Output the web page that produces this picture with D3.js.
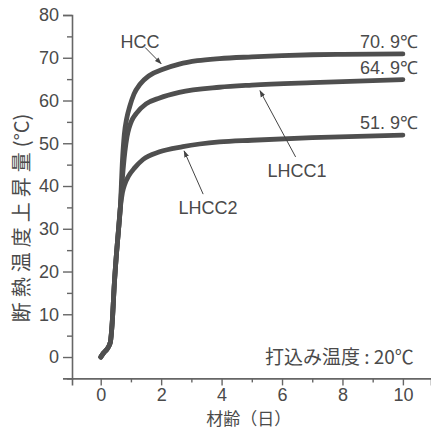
<!DOCTYPE html>
<html>
<head>
<meta charset="utf-8">
<script src="https://cdn.jsdelivr.net/npm/d3@7"></script>
<style>
  body { margin: 0; background: #fff; }
  svg { display: block; }
</style>
</head>
<body>
<div id="chart"></div>
<script>
const width = 431;
const height = 431;

// shared early rise (all three mixes overlap here)
const trunkAge = [0, 0.1, 0.25, 0.32, 0.38, 0.45, 0.52, 0.58, 0.65];
const trunkTemp = [0, 1.0, 2.3, 3.5, 8, 17, 24, 29, 35];

const hccAge = [0.72, 0.78, 0.86, 0.96, 1.1, 1.3, 1.6, 2.06, 2.6, 3.2, 3.93, 5, 6, 7, 8, 10];
const hccTemp = [46, 52, 55.8, 58.6, 61.5, 63.8, 65.8, 67.3, 68.5, 69.3, 69.8, 70.2, 70.5, 70.7, 70.8, 70.9];

const lhcc1Age = [0.72, 0.8, 0.87, 0.94, 1.02, 1.18, 1.5, 1.95, 2.6, 3.93, 5, 7, 10];
const lhcc1Temp = [42, 48, 51.5, 53.6, 55.2, 57, 59.2, 60.6, 61.9, 63.1, 63.6, 64.2, 64.9];

const lhcc2Age = [0.72, 0.8, 0.92, 1.13, 1.4, 1.95, 2.72, 3.93, 5, 7, 10];
const lhcc2Temp = [38.5, 40.5, 42.3, 44.3, 46.2, 48.0, 49.2, 50.3, 50.7, 51.3, 51.9];

const finalLabels = ["70. 9℃", "64. 9℃", "51. 9℃"];
const finalTemps = [70.9, 64.9, 51.9];

const yTicks = [0, 10, 20, 30, 40, 50, 60, 70, 80];
const yMinor = [-5, 5, 15, 25, 35, 45, 55, 65, 75];
const xTicks = [0, 2, 4, 6, 8, 10];
const xMinor = [1, 3, 5, 7, 9];

// callout labels and arrows, in data units
const calloutText = ["HCC", "LHCC1", "LHCC2"];
const calloutPos = [[1.3, 73.7], [6.5, 43.6], [3.55, 35.0]];
const arrowFrom = [[1.47, 72.4], [6.45, 46.8], [3.39, 38.1]];
const arrowTo = [[2.0, 68.6], [5.27, 62.3], [2.76, 48.2]];

const xScale = d3.scaleLinear().domain([-0.95, 10.93]).range([72, 431]);
const yScale = d3.scaleLinear().domain([-5, 80]).range([378.4, 15]);

const svg = d3.select('#chart').append('svg')
    .attr('width', width)
    .attr('height', height);

const axisColor = '#666';
const textColor = '#4a4a4a';
const numFont = '"Liberation Sans", Arial, sans-serif';
const cjkFont = '"Noto Sans CJK JP", "Noto Sans", sans-serif';

svg.append('defs').append('marker')
    .attr('id', 'arrow')
    .attr('viewBox', '0 0 10 10')
    .attr('refX', 9).attr('refY', 5)
    .attr('markerWidth', 7).attr('markerHeight', 7)
    .attr('orient', 'auto')
    .append('path')
    .attr('d', 'M0,1.5 L10,5 L0,8.5 Z')
    .attr('fill', '#444');

// y axis
svg.append('g')
    .attr('transform', `translate(${xScale(-0.95)},0)`)
    .call(d3.axisLeft(yScale).tickValues(yTicks).tickSize(9).tickPadding(4).tickFormat(d3.format('d')));
svg.append('g')
    .attr('transform', `translate(${xScale(-0.95)},0)`)
    .call(d3.axisLeft(yScale).tickValues(yMinor).tickSize(5).tickFormat(''))
    .call(g => g.select('.domain').remove());

// x axis
svg.append('g')
    .attr('transform', `translate(0,${yScale(-5)})`)
    .call(d3.axisBottom(xScale).tickValues(xTicks).tickSize(7).tickPadding(3).tickFormat(d3.format('d')));
svg.append('g')
    .attr('transform', `translate(0,${yScale(-5)})`)
    .call(d3.axisBottom(xScale).tickValues(xMinor).tickSize(4).tickFormat(''))
    .call(g => g.select('.domain').remove());

svg.selectAll('.domain').attr('stroke', axisColor).attr('stroke-width', 1.6);
svg.selectAll('.tick line').attr('stroke', axisColor).attr('stroke-width', 1.4);
svg.selectAll('.tick text')
    .attr('fill', textColor)
    .style('font-family', numFont)
    .style('font-size', '18px');

// axis titles
const yTitle = svg.append('text')
    .attr('transform', `translate(29,${218}) rotate(-90)`)
    .attr('text-anchor', 'middle')
    .attr('fill', textColor)
    .style('font-family', cjkFont)
    .style('font-size', '20px');
yTitle.append('tspan').style('letter-spacing', '5px').text('断熱温度上昇量');
yTitle.append('tspan').text('(°C)');

svg.append('text')
    .attr('x', xScale(4.9))
    .attr('y', 425)
    .attr('text-anchor', 'middle')
    .attr('fill', textColor)
    .style('font-family', cjkFont)
    .style('font-size', '17px')
    .text('材齢（日）');

svg.append('text')
    .attr('x', xScale(10.36))
    .attr('y', yScale(-1.6))
    .attr('text-anchor', 'end')
    .attr('fill', textColor)
    .style('font-family', cjkFont)
    .style('font-size', '19px')
    .text('打込み温度 : 20℃');

// curves
const toPoints = (ages, temps) => ages.map((a, i) => ({ age: a, temp: temps[i] }));
const trunk = toPoints(trunkAge, trunkTemp);
const curves = [
    trunk.concat(toPoints(hccAge, hccTemp)),
    trunk.concat(toPoints(lhcc1Age, lhcc1Temp)),
    trunk.concat(toPoints(lhcc2Age, lhcc2Temp))
];

const line = d3.line()
    .x(d => xScale(d.age))
    .y(d => yScale(d.temp))
    .curve(d3.curveMonotoneX);

svg.append('g').selectAll('path')
    .data(curves).enter()
    .append('path')
    .attr('d', d => line(d))
    .attr('fill', 'none')
    .attr('stroke', '#4f4f4f')
    .attr('stroke-width', 4.8)
    .attr('stroke-linecap', 'round')
    .attr('stroke-linejoin', 'round');

// final value labels
svg.append('g').selectAll('text')
    .data(finalLabels).enter()
    .append('text')
    .attr('x', xScale(10.5))
    .attr('y', (d, i) => yScale(finalTemps[i]) - 6)
    .attr('text-anchor', 'end')
    .attr('fill', textColor)
    .style('font-family', numFont)
    .style('font-size', '18px')
    .text(d => d);

// callouts
svg.append('g').selectAll('line')
    .data(arrowFrom).enter()
    .append('line')
    .attr('x1', d => xScale(d[0]))
    .attr('y1', d => yScale(d[1]))
    .attr('x2', (d, i) => xScale(arrowTo[i][0]))
    .attr('y2', (d, i) => yScale(arrowTo[i][1]))
    .attr('stroke', '#444')
    .attr('stroke-width', 1)
    .attr('marker-end', 'url(#arrow)');

svg.append('g').selectAll('text')
    .data(calloutText).enter()
    .append('text')
    .attr('x', (d, i) => xScale(calloutPos[i][0]))
    .attr('y', (d, i) => yScale(calloutPos[i][1]))
    .attr('dy', '0.35em')
    .attr('text-anchor', 'middle')
    .attr('fill', textColor)
    .style('font-family', '"Liberation Sans Narrow", "Liberation Sans", Arial, sans-serif')
    .style('font-size', '18px')
    .text(d => d);
</script>
</body>
</html>
